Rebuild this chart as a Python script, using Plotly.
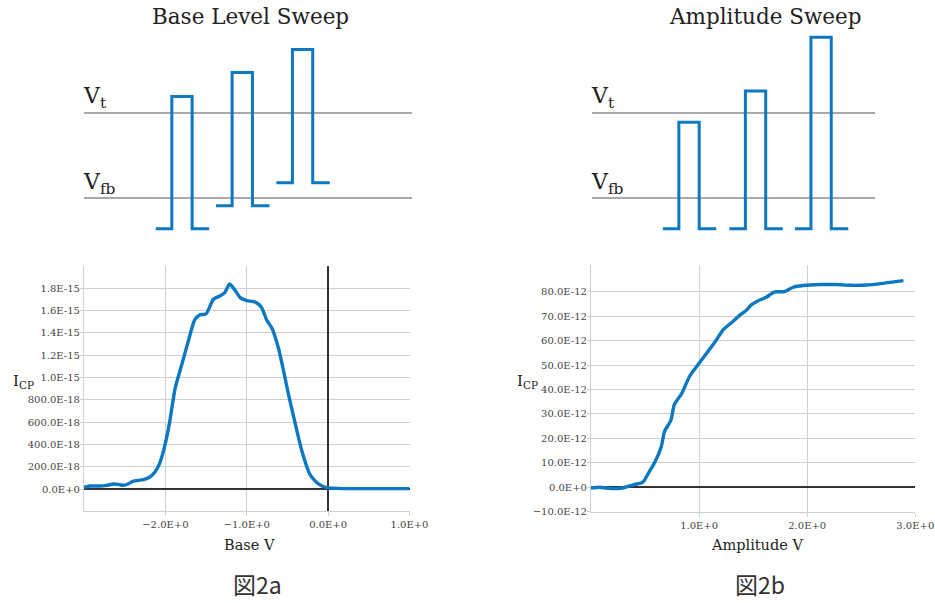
import plotly.graph_objects as go

W, H = 935, 603
BLUE = "#0b78c1"
GRID = "#cfcfcf"
DARK = "#333333"

# ---------------- data: Base level sweep (I_CP in units of 1E-18 A) ----------------
base_v = [-3.0, -2.93, -2.81, -2.72, -2.64, -2.58, -2.52, -2.46, -2.40, -2.27, -2.19, -2.13,
          -2.07, -2.01, -1.95, -1.88, -1.80, -1.72, -1.64, -1.58, -1.50, -1.41, -1.33, -1.27,
          -1.21, -1.14, -1.08, -1.00, -0.90, -0.82, -0.755, -0.69, -0.61, -0.55, -0.49, -0.41,
          -0.32, -0.22, -0.12, -0.02, 0.11, 0.48, 1.0]
icp_base = [15, 27, 27, 33, 45, 42, 33, 45, 69, 84, 108, 150,
            230, 380, 589, 903, 1112, 1322, 1516, 1561, 1570, 1702, 1731, 1761,
            1839, 1779, 1716, 1690, 1678, 1630, 1516, 1441, 1262, 1068, 858, 604,
            335, 126, 45, 12, 6, 3, 3]

# ---------------- data: Amplitude sweep (I_CP in units of 1E-12 A) ----------------
amp_v = [0.0, 0.08, 0.14, 0.22, 0.28, 0.34, 0.40, 0.47, 0.49, 0.53, 0.59, 0.65, 0.68,
         0.74, 0.77, 0.84, 0.91, 1.0, 1.07, 1.15, 1.22, 1.31, 1.38, 1.44, 1.48, 1.53,
         1.62, 1.70, 1.79, 1.87, 1.96, 2.12, 2.27, 2.40, 2.55, 2.70, 2.89]
icp_amp = [-0.3, 0.0, -0.3, -0.55, -0.4, 0.3, 1.1, 1.8, 2.6, 5.7, 10.2, 16.6, 22.8,
           27.5, 33.7, 38.4, 45.2, 50.7, 54.8, 59.6, 64.3, 67.7, 70.5, 72.5, 74.5, 75.9,
           77.7, 79.9, 80.0, 81.8, 82.5, 82.9, 82.9, 82.6, 82.7, 83.4, 84.5]

# ---------------- tick labels ----------------
base_xticks = [-2, -1, 0, 1]
base_xtext = ["\u22122.0E+0", "\u22121.0E+0", "0.0E+0", "1.0E+0"]
base_yticks = [0, 200, 400, 600, 800, 1000, 1200, 1400, 1600, 1800]
base_ytext = ["0.0E+0", "200.0E-18", "400.0E-18", "600.0E-18", "800.0E-18",
              "1.0E-15", "1.2E-15", "1.4E-15", "1.6E-15", "1.8E-15"]
amp_xticks = [1, 2, 3]
amp_xtext = ["1.0E+0", "2.0E+0", "3.0E+0"]
amp_yticks = [-10, 0, 10, 20, 30, 40, 50, 60, 70, 80]
amp_ytext = ["\u221210.0E-12", "0.0E+0", "10.0E-12", "20.0E-12", "30.0E-12", "40.0E-12",
             "50.0E-12", "60.0E-12", "70.0E-12", "80.0E-12"]

# ---------------- schematic pulse trains (levels relative: Vfb = 0, Vt = 1) ----------------
V_FB, V_T = 0.0, 1.0
sweep_a_rise = [2.68, 4.52, 6.36]
sweep_a_base = [-0.36, -0.09, 0.18]
sweep_a_top = [1.19, 1.47, 1.74]
sweep_b_rise = [2.66, 4.69, 6.69]
sweep_b_base = [-0.36, -0.36, -0.36]
sweep_b_top = [0.887, 1.254, 1.884]
PULSE_LEAD, PULSE_WIDTH, PULSE_TRAIL = 0.49, 0.62, 0.52


def pulse_path(rises, bases, tops):
    xs, ys = [], []
    for r, b, t in zip(rises, bases, tops):
        xs += [r - PULSE_LEAD, r, r, r + PULSE_WIDTH, r + PULSE_WIDTH, r + PULSE_WIDTH + PULSE_TRAIL, None]
        ys += [b, b, t, t, b, b, None]
    return xs, ys


def px_x(x):
    return x / W


def px_y(y):
    return 1 - y / H


fig = go.Figure()

fig.add_trace(go.Scatter(x=base_v, y=icp_base, mode="lines",
                         line=dict(color=BLUE, width=3.4, shape="spline", smoothing=0.6),
                         xaxis="x", yaxis="y", hoverinfo="skip"))
fig.add_trace(go.Scatter(x=amp_v, y=icp_amp, mode="lines",
                         line=dict(color=BLUE, width=3.4, shape="spline", smoothing=0.6),
                         xaxis="x2", yaxis="y2", hoverinfo="skip"))
ax, ay = pulse_path(sweep_a_rise, sweep_a_base, sweep_a_top)
fig.add_trace(go.Scatter(x=ax, y=ay, mode="lines", line=dict(color=BLUE, width=3),
                         xaxis="x3", yaxis="y3", hoverinfo="skip", connectgaps=False))
bx, by = pulse_path(sweep_b_rise, sweep_b_base, sweep_b_top)
fig.add_trace(go.Scatter(x=bx, y=by, mode="lines", line=dict(color=BLUE, width=3),
                         xaxis="x4", yaxis="y4", hoverinfo="skip", connectgaps=False))

tickfont = dict(family="DejaVu Serif", size=10, color="#444444")

common_x = dict(showgrid=True, gridcolor=GRID, gridwidth=1.2, ticks="outside", ticklen=4,
                tickcolor=GRID, tickwidth=1.2, tickfont=tickfont, showline=True, linecolor=GRID,
                linewidth=1.2, tickmode="array", fixedrange=True, automargin=False)
common_y = dict(showgrid=True, gridcolor=GRID, gridwidth=1.2, ticks="outside", ticklen=3,
                tickcolor=GRID, tickwidth=1.2, tickfont=tickfont, showline=True, linecolor=GRID,
                linewidth=1.2, tickmode="array", fixedrange=True, automargin=False,
                ticklabelstandoff=-2)
schem = dict(zeroline=False, showticklabels=False, fixedrange=True, automargin=False)

PX_PER_UNIT = 32.77   # schematic time scale
LVL_PX = 85.3        # schematic level scale
top_y_domain = [px_y(198 + 0.6 * LVL_PX), px_y(198 - 2.0 * LVL_PX)]

fig.update_layout(
    width=W, height=H, margin=dict(l=0, r=0, t=0, b=0, pad=0), autosize=False,
    paper_bgcolor="white", plot_bgcolor="white", showlegend=False,
    xaxis=dict(common_x, domain=[px_x(84), px_x(409.5)], range=[-3, 1], anchor="y",
               tickvals=base_xticks, ticktext=base_xtext,
               zeroline=True, zerolinecolor=DARK, zerolinewidth=2),
    yaxis=dict(common_y, domain=[px_y(511.3), px_y(266)], range=[-200, 2000], anchor="x",
               tickvals=base_yticks, ticktext=base_ytext,
               zeroline=True, zerolinecolor=DARK, zerolinewidth=2),
    xaxis2=dict(common_x, domain=[px_x(591), px_x(915.3)], range=[0, 3], anchor="y2",
                tickvals=amp_xticks, ticktext=amp_xtext, zeroline=False),
    yaxis2=dict(common_y, domain=[px_y(511.7), px_y(265)], range=[-10, 90.9], anchor="x2",
                tickvals=amp_yticks, ticktext=amp_ytext,
                zeroline=True, zerolinecolor=DARK, zerolinewidth=1.8),
    xaxis3=dict(schem, domain=[px_x(84), px_x(411.7)], range=[0, (411.7 - 84) / PX_PER_UNIT],
                anchor="y3", showgrid=False),
    yaxis3=dict(schem, domain=top_y_domain, range=[-0.6, 2.0], anchor="x3", tickmode="array",
                tickvals=[V_FB, V_T], showgrid=True, gridcolor="#a9a9a9", gridwidth=1.5),
    xaxis4=dict(schem, domain=[px_x(591.7), px_x(875)], range=[0, (875 - 591.7) / PX_PER_UNIT],
                anchor="y4", showgrid=False),
    yaxis4=dict(schem, domain=top_y_domain, range=[-0.6, 2.0], anchor="x4", tickmode="array",
                tickvals=[V_FB, V_T], showgrid=True, gridcolor="#a9a9a9", gridwidth=1.5),
)

serif = "DejaVu Serif"
ann = []


def add_text(text, x, y, size, family=serif, xanchor="center", yanchor="middle", color="#222222"):
    ann.append(dict(text=text, x=px_x(x), y=px_y(y), xref="paper", yref="paper", showarrow=False,
                    xanchor=xanchor, yanchor=yanchor, font=dict(family=family, size=size, color=color)))


add_text("Base Level Sweep", 250, 17, 21.5)
add_text("Amplitude Sweep", 765, 17, 21.5)
for x0 in (84, 591.7):
    add_text("V<sub>t</sub>", x0 - 3, 97, 22, xanchor="left")
    add_text("V<sub>fb</sub>", x0 - 3, 183, 22, xanchor="left")
add_text("I<sub>CP</sub>", 11, 381, 15, xanchor="left")
add_text("I<sub>CP</sub>", 515, 381, 15, xanchor="left")
add_text("Base V", 249, 545, 14.5)
add_text("Amplitude V", 757, 545, 14.5)
add_text("図2a", 257, 584, 23, family="Noto Sans CJK JP", color="#333333")
add_text("図2b", 760, 584, 23, family="Noto Sans CJK JP", color="#333333")
fig.update_layout(annotations=ann)

fig.write_html("out.html", config={"displayModeBar": False},
               post_script="document.body.style.margin='0px';")
